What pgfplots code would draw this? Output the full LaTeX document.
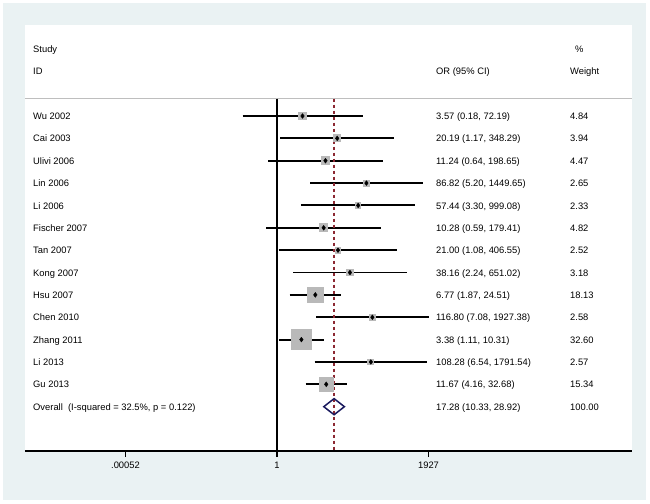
\documentclass[border=0pt]{standalone}
\usepackage{fontspec}
\setmainfont{Liberation Sans}
\usepackage{pgfplots}
\pgfplotsset{compat=1.18}
\usepackage{pgfplotstable}
\definecolor{bgblue}{RGB}{234,242,243}
\definecolor{boxgray}{RGB}{185,185,185}
\definecolor{navy}{RGB}{26,26,94}
\definecolor{dashred}{RGB}{140,40,50}
\definecolor{sepgray}{RGB}{190,190,190}

% k = row, or = odds ratio, lo/hi = 95% CI, w = weight (%)
\pgfplotstableread{
k or lo hi w
1 3.57 0.18 72.19 4.84
2 20.19 1.17 348.29 3.94
3 11.24 0.64 198.65 4.47
4 86.82 5.20 1449.65 2.65
5 57.44 3.30 999.08 2.33
6 10.28 0.59 179.41 4.82
7 21.00 1.08 406.55 2.52
8 38.16 2.24 651.02 3.18
9 6.77 1.87 24.51 18.13
10 116.80 7.08 1927.38 2.58
11 3.38 1.11 10.31 32.60
12 108.28 6.54 1791.54 2.57
13 11.67 4.16 32.68 15.34
}\studies

\tikzset{txt/.style={anchor=west, inner xsep=0pt, inner ysep=0pt, text height=0.716em, text depth=0pt, font=\fontsize{9.4}{11}\selectfont}}
\newcommand{\rowtext}[4]{%
  \node[txt] at ({rel axis cs:0.0132,0}|-{axis cs:1,#1}) {#2};
  \node[txt] at ({rel axis cs:0.6771,0}|-{axis cs:1,#1}) {#3};
  \node[txt] at ({rel axis cs:0.8979,0}|-{axis cs:1,#1}) {#4};
}

\begin{document}
\begin{tikzpicture}
\useasboundingbox (0bp,0bp) rectangle (650bp,504bp);
\fill[white] (0bp,0bp) rectangle (650bp,504bp);
\fill[bgblue] (3bp,4bp) rectangle (646bp,501bp);
\begin{axis}[
  at={(25bp,53bp)}, anchor=south west,
  scale only axis, width=607bp, height=426bp,
  xmode=log, xmin=3.446e-6, xmax=4.962e7,
  ymin=-15.982, ymax=3.0698,
  axis x line*=bottom, axis y line=none,
  axis line style={black, line width=1.2pt},
  axis background/.style={fill=white},
  xtick={0.00052,1,1927}, xticklabels={.00052,1,1927},
  minor xtick={}, xminorticks=false,
  tick align=outside, major tick length=6bp,
  tick style={black, line width=1.2pt},
  xticklabel style={font=\fontsize{9.4}{11}\selectfont, inner sep=2pt, yshift=-2.5bp},
  ytick=\empty,
  clip=false,
]
% header separator
\draw[sepgray, line width=1pt] ({rel axis cs:0,0}|-{axis cs:1,-0.227}) -- ({rel axis cs:1,0}|-{axis cs:1,-0.227});
% line of no effect
\addplot[black, line width=1.3pt] coordinates {(1,-0.227) (1,-15.982)};
% weight boxes
\addplot[only marks, scatter, mark=square*, line width=0pt,
  mark options={draw=boxgray, fill=boxgray},
  scatter/use mapped color={draw=boxgray, fill=boxgray},
  visualization depends on={1.815*sqrt(\thisrow{w}) \as \msize},
  scatter/@pre marker code/.append style={/tikz/mark size=\msize}]
  table[x=or, y expr=-\thisrow{k}] {\studies};
% confidence intervals
\pgfplotsset{ci/.style={black, line width=1.9pt, no marks}}
\addplot[ci] coordinates {(0.18,-1) (72.19,-1)};
\addplot[ci] coordinates {(1.17,-2) (348.29,-2)};
\addplot[ci] coordinates {(0.64,-3) (198.65,-3)};
\addplot[ci] coordinates {(5.20,-4) (1449.65,-4)};
\addplot[ci] coordinates {(3.30,-5) (999.08,-5)};
\addplot[ci] coordinates {(0.59,-6) (179.41,-6)};
\addplot[ci] coordinates {(1.08,-7) (406.55,-7)};
\addplot[ci] coordinates {(2.24,-8) (651.02,-8)};
\addplot[ci] coordinates {(1.87,-9) (24.51,-9)};
\addplot[ci] coordinates {(7.08,-10) (1927.38,-10)};
\addplot[ci] coordinates {(1.11,-11) (10.31,-11)};
\addplot[ci] coordinates {(6.54,-12) (1791.54,-12)};
\addplot[ci] coordinates {(4.16,-13) (32.68,-13)};
% point estimates
\addplot[only marks, mark=diamond*, mark size=2.4pt, black] table[x=or, y expr=-\thisrow{k}] {\studies};
% overall estimate line
\addplot[dashred, line width=1.3pt, dash pattern=on 3bp off 3bp] coordinates {(17.28,-0.227) (17.28,-15.982)};
% overall diamond
\addplot[navy, line width=1.5pt] coordinates {(10.33,-14) (17.28,-13.64) (28.92,-14) (17.28,-14.36) (10.33,-14)} -- cycle;
% texts
\node[txt] at ({rel axis cs:0.0132,0}|-{axis cs:1,2}) {Study};
\node[txt] at ({rel axis cs:0.0132,0}|-{axis cs:1,1}) {ID};
\node[txt] at ({rel axis cs:0.6771,0}|-{axis cs:1,1}) {OR (95\% CI)};
\node[txt] at ({rel axis cs:0.9060,0}|-{axis cs:1,2}) {\%};
\node[txt] at ({rel axis cs:0.8979,0}|-{axis cs:1,1}) {Weight};
\rowtext{-1}{Wu 2002}{3.57 (0.18, 72.19)}{4.84}
\rowtext{-2}{Cai 2003}{20.19 (1.17, 348.29)}{3.94}
\rowtext{-3}{Ulivi 2006}{11.24 (0.64, 198.65)}{4.47}
\rowtext{-4}{Lin 2006}{86.82 (5.20, 1449.65)}{2.65}
\rowtext{-5}{Li 2006}{57.44 (3.30, 999.08)}{2.33}
\rowtext{-6}{Fischer 2007}{10.28 (0.59, 179.41)}{4.82}
\rowtext{-7}{Tan 2007}{21.00 (1.08, 406.55)}{2.52}
\rowtext{-8}{Kong 2007}{38.16 (2.24, 651.02)}{3.18}
\rowtext{-9}{Hsu 2007}{6.77 (1.87, 24.51)}{18.13}
\rowtext{-10}{Chen 2010}{116.80 (7.08, 1927.38)}{2.58}
\rowtext{-11}{Zhang 2011}{3.38 (1.11, 10.31)}{32.60}
\rowtext{-12}{Li 2013}{108.28 (6.54, 1791.54)}{2.57}
\rowtext{-13}{Gu 2013}{11.67 (4.16, 32.68)}{15.34}
\rowtext{-14}{Overall\ \ (I-squared = 32.5\%, p = 0.122)}{17.28 (10.33, 28.92)}{100.00}
\end{axis}
\end{tikzpicture}
\end{document}
